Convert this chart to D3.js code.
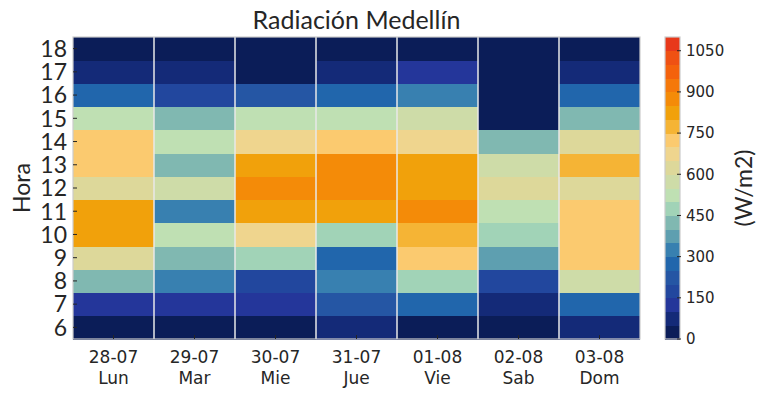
<!DOCTYPE html>
<html>
<head>
<meta charset="utf-8">
<script src="https://cdn.jsdelivr.net/npm/d3@7"></script>
<style>
  body { margin: 0; background: #fff; }
  svg text { fill: #262626; }
  .lato { font-family: Lato, "Open Sans", sans-serif; }
  .dv { font-family: "DejaVu Sans", sans-serif; }
</style>
</head>
<body>
<div id="chart"></div>
<script>
//////////////////////////////////////////////////////////////////////////////////////////////////////////////
//Data
var days = ["28-07","29-07","30-07","31-07","01-08","02-08","03-08"];
var weekdays = ["Lun","Mar","Mie","Jue","Vie","Sab","Dom"];
var hours = [6,7,8,9,10,11,12,13,14,15,16,17,18];
//radiation per day, hours 6..18 (W/m2)
var d2807 = [25,125,425,625,825,825,625,725,725,525,275,75,25];
var d2907 = [25,125,325,425,525,325,575,425,525,425,175,75,25];
var d3007 = [25,125,175,475,675,825,875,825,675,525,225,25,25];
var d3107 = [75,225,325,275,475,825,875,875,725,525,275,75,25];
var d0108 = [25,275,475,725,775,875,825,825,675,575,325,125,25];
var d0208 = [25,75,175,375,475,525,625,575,425,25,25,25,25];
var d0308 = [75,275,575,725,725,725,625,775,625,425,275,75,25];
var series = [d2807,d2907,d3007,d3107,d0108,d0208,d0308];
var cbTicks = [0,150,300,450,600,750,900,1050];

//discrete palette, 22 steps of 50 W/m2
var palette = ["#0b1d58","#142a78","#24369a","#22479e","#2556a4","#2166ac","#3880b0","#5e9fb0",
  "#80b8b1","#a1d3b7","#bfe0b3","#cedca8","#ddd89a","#efd58e","#fbca6f","#f5b435",
  "#f1a10b","#f48b08","#f5780a","#f4620c","#ef5113","#e8381a"];

var W = 767, H = 395;
var m = {left: 73, right: 127, top: 37, bottom: 56};
var pw = W - m.left - m.right, ph = H - m.top - m.bottom;

var color = d3.scaleQuantize().domain([0,1100]).range(palette);
var x = d3.scaleBand().domain(days).range([0,pw]);
var y = d3.scaleBand().domain(hours).range([ph,0]);

var svg = d3.select("#chart").append("svg")
  .attr("width", W)
  .attr("height", H);

svg.append("text")
  .attr("class","lato")
  .attr("x", m.left + pw/2)
  .attr("y", 29)
  .attr("text-anchor","middle")
  .style("font-size","25px")
  .text("Radiación Medellín");

var g = svg.append("g").attr("transform","translate("+m.left+","+m.top+")");

//cells
var cells = [];
series.forEach(function(vals,i){
  vals.forEach(function(v,j){
    cells.push({day: days[i], hour: hours[j], value: v});
  });
});
g.append("g").selectAll("rect")
  .data(cells)
  .enter().append("rect")
  .attr("x", function(d){ return x(d.day); })
  .attr("y", function(d){ return y(d.hour); })
  .attr("width", x.bandwidth())
  .attr("height", y.bandwidth() + 0.5)
  .attr("shape-rendering","crispEdges")
  .style("fill", function(d){ return color(d.value); });

//white column separators
g.append("g").selectAll("line")
  .data(days.slice(1))
  .enter().append("line")
  .attr("x1", function(d){ return x(d); })
  .attr("x2", function(d){ return x(d); })
  .attr("y1", 0).attr("y2", ph)
  .style("stroke","#e8e8e8")
  .style("stroke-width",1.5);

g.append("rect")
  .attr("width", pw).attr("height", ph)
  .style("fill","none").style("stroke","#cccccc").style("stroke-width",1.2);

//x axis
var xa = g.append("g").attr("transform","translate(0,"+ph+")");
days.forEach(function(d,i){
  var cx = x(d) + x.bandwidth()/2;
  xa.append("line").attr("x1",cx).attr("x2",cx).attr("y1",0).attr("y2",-4)
    .style("stroke","#262626").style("stroke-width",1);
  var t = xa.append("text").attr("class","dv")
    .attr("x", cx).attr("text-anchor","middle").style("font-size","17px");
  t.append("tspan").attr("x",cx).attr("y",24).text(d);
  t.append("tspan").attr("x",cx).attr("y",45).text(weekdays[i]);
});

//y axis
var ya = g.append("g");
hours.forEach(function(h){
  var cy = y(h) + y.bandwidth()/2;
  ya.append("line").attr("x1",0).attr("x2",4).attr("y1",cy).attr("y2",cy)
    .style("stroke","#262626").style("stroke-width",1);
  ya.append("text").attr("class","lato")
    .attr("x",-6).attr("y",cy).attr("dy","0.36em")
    .attr("text-anchor","end").style("font-size","23px")
    .text(h);
});
svg.append("text").attr("class","lato")
  .attr("transform","translate(30,"+(m.top+ph/2)+") rotate(-90)")
  .attr("text-anchor","middle").style("font-size","23px")
  .text("Hora");

//colorbar
var cbx = 665, cbw = 15;
var cy = d3.scaleLinear().domain([0,1100]).range([m.top+ph, m.top]);
var cb = svg.append("g");
cb.selectAll("rect")
  .data(palette)
  .enter().append("rect")
  .attr("x", cbx)
  .attr("y", function(c,i){ return cy((i+1)*50); })
  .attr("width", cbw)
  .attr("height", function(c,i){ return cy(i*50) - cy((i+1)*50) + 0.5; })
  .attr("shape-rendering","crispEdges")
  .style("fill", function(c){ return c; });
cb.append("rect").attr("x",cbx).attr("y",m.top).attr("width",cbw).attr("height",ph)
  .style("fill","none").style("stroke","#cccccc").style("stroke-width",1.2);
cbTicks.forEach(function(t){
  cb.append("line").attr("x1",cbx+cbw-3).attr("x2",cbx+cbw+1)
    .attr("y1",cy(t)).attr("y2",cy(t)).style("stroke","#262626");
  cb.append("text").attr("class","dv")
    .attr("x", cbx+cbw+6).attr("y", cy(t)).attr("dy","0.36em")
    .style("font-size","15px").text(t);
});
svg.append("text").attr("class","lato")
  .attr("transform","translate(752,"+(m.top+ph/2)+") rotate(-90)")
  .attr("text-anchor","middle").style("font-size","23px")
  .text("(W/m2)");
</script>
</body>
</html>
